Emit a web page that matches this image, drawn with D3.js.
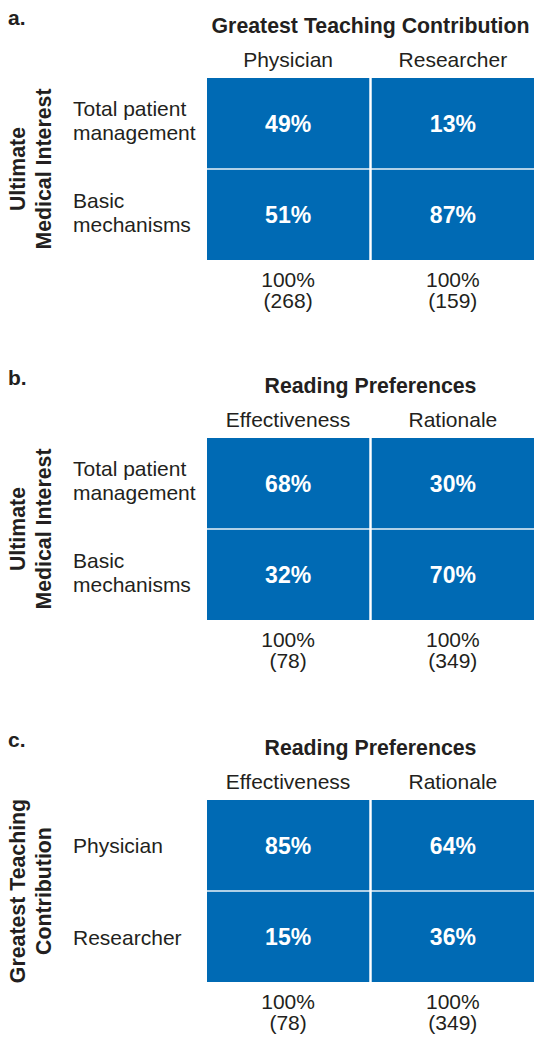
<!DOCTYPE html>
<html>
<head>
<meta charset="utf-8">
<script src="https://cdn.jsdelivr.net/npm/d3@7"></script>
<style>
  html, body { margin: 0; padding: 0; background: #fff; }
  svg { display: block; }
</style>
</head>
<body>
<svg id="chart"></svg>
<script>
// one entry per panel (a, b, c)
const panelLetters = ["a.", "b.", "c."];
const colTitles = ["Greatest Teaching Contribution", "Reading Preferences", "Reading Preferences"];
const rowTitles = [
    ["Ultimate", "Medical Interest"],
    ["Ultimate", "Medical Interest"],
    ["Greatest Teaching", "Contribution"]
];
const colCategories = [
    ["Physician", "Researcher"],
    ["Effectiveness", "Rationale"],
    ["Effectiveness", "Rationale"]
];
const rowCategories = [
    [["Total patient", "management"], ["Basic", "mechanisms"]],
    [["Total patient", "management"], ["Basic", "mechanisms"]],
    [["Physician"], ["Researcher"]]
];
// percentages, [row][col]
const percents = [
    [[49, 13], [51, 87]],
    [[68, 30], [32, 70]],
    [[85, 64], [15, 36]]
];
// column totals (n)
const totals = [
    [268, 159],
    [78, 349],
    [78, 349]
];

const width = 534, height = 1038;
const font = "'Liberation Sans', Arial, Helvetica, sans-serif";
const ink = "#231f20";
const blue = "#006ab4";
const panelTops = [78, 438, 800];
const gridH = 182;
const regular = 21;

const svg = d3.select("#chart")
    .attr("width", width)
    .attr("height", height)
    .attr("font-family", font);

const xscale = d3.scaleBand()
    .domain([0, 1])
    .range([207, 534])
    .paddingInner(0.015);

panelLetters.forEach((letter, p) => {
    const top = panelTops[p];
    const yscale = d3.scaleBand()
        .domain([0, 1])
        .range([top, top + gridH])
        .paddingInner(0.015);

    const g = svg.append("g");

    // panel letter
    g.append("text")
        .attr("x", 8)
        .attr("y", top - 53)
        .attr("font-size", 21)
        .attr("font-weight", "bold")
        .attr("fill", ink)
        .text(letter);

    // column title
    g.append("text")
        .attr("x", (xscale.range()[0] + xscale.range()[1]) / 2)
        .attr("y", top - 45)
        .attr("text-anchor", "middle")
        .attr("font-size", 21.3)
        .attr("font-weight", "bold")
        .attr("fill", ink)
        .text(colTitles[p]);

    // column headers
    g.selectAll("text.colhead")
        .data(colCategories[p])
        .join("text")
        .attr("class", "colhead")
        .attr("x", (d, i) => xscale(i) + xscale.bandwidth() / 2)
        .attr("y", top - 11)
        .attr("text-anchor", "middle")
        .attr("font-size", regular)
        .attr("fill", ink)
        .text(d => d);

    // cells
    const cells = [];
    percents[p].forEach((row, r) => row.forEach((v, c) => cells.push({ r, c, v })));

    g.selectAll("rect")
        .data(cells)
        .join("rect")
        .attr("x", d => xscale(d.c))
        .attr("y", d => yscale(d.r))
        .attr("width", xscale.bandwidth())
        .attr("height", yscale.bandwidth())
        .attr("fill", blue);

    g.selectAll("text.pct")
        .data(cells)
        .join("text")
        .attr("class", "pct")
        .attr("x", d => xscale(d.c) + xscale.bandwidth() / 2)
        .attr("y", d => yscale(d.r) + yscale.bandwidth() / 2 + 8.5)
        .attr("text-anchor", "middle")
        .attr("font-size", 23)
        .attr("font-weight", "bold")
        .attr("fill", "#fff")
        .text(d => d.v + "%");

    // row labels
    rowCategories[p].forEach((lines, r) => {
        const cy = yscale(r) + yscale.bandwidth() / 2;
        const t = g.append("text")
            .attr("x", 73)
            .attr("font-size", regular)
            .attr("fill", ink);
        const y0 = lines.length === 1 ? cy + 8 : cy - 7;
        lines.forEach((line, k) => {
            t.append("tspan")
                .attr("x", 73)
                .attr("y", y0 + k * 24)
                .text(line);
        });
    });

    // row title (rotated)
    const mid = top + gridH / 2;
    const rt = g.append("text")
        .attr("transform", `translate(0,${mid}) rotate(-90)`)
        .attr("text-anchor", "middle")
        .attr("font-size", 21.3)
        .attr("font-weight", "bold")
        .attr("fill", ink);
    rowTitles[p].forEach((line, k) => {
        rt.append("tspan")
            .attr("x", 0)
            .attr("y", 25 + k * 26)
            .text(line);
    });

    // column totals
    totals[p].forEach((n, c) => {
        const cx = xscale(c) + xscale.bandwidth() / 2;
        const t = g.append("text")
            .attr("text-anchor", "middle")
            .attr("font-size", regular)
            .attr("fill", ink);
        t.append("tspan").attr("x", cx).attr("y", top + gridH + 27).text("100%");
        t.append("tspan").attr("x", cx).attr("y", top + gridH + 48).text(`(${n})`);
    });
});
</script>
</body>
</html>
